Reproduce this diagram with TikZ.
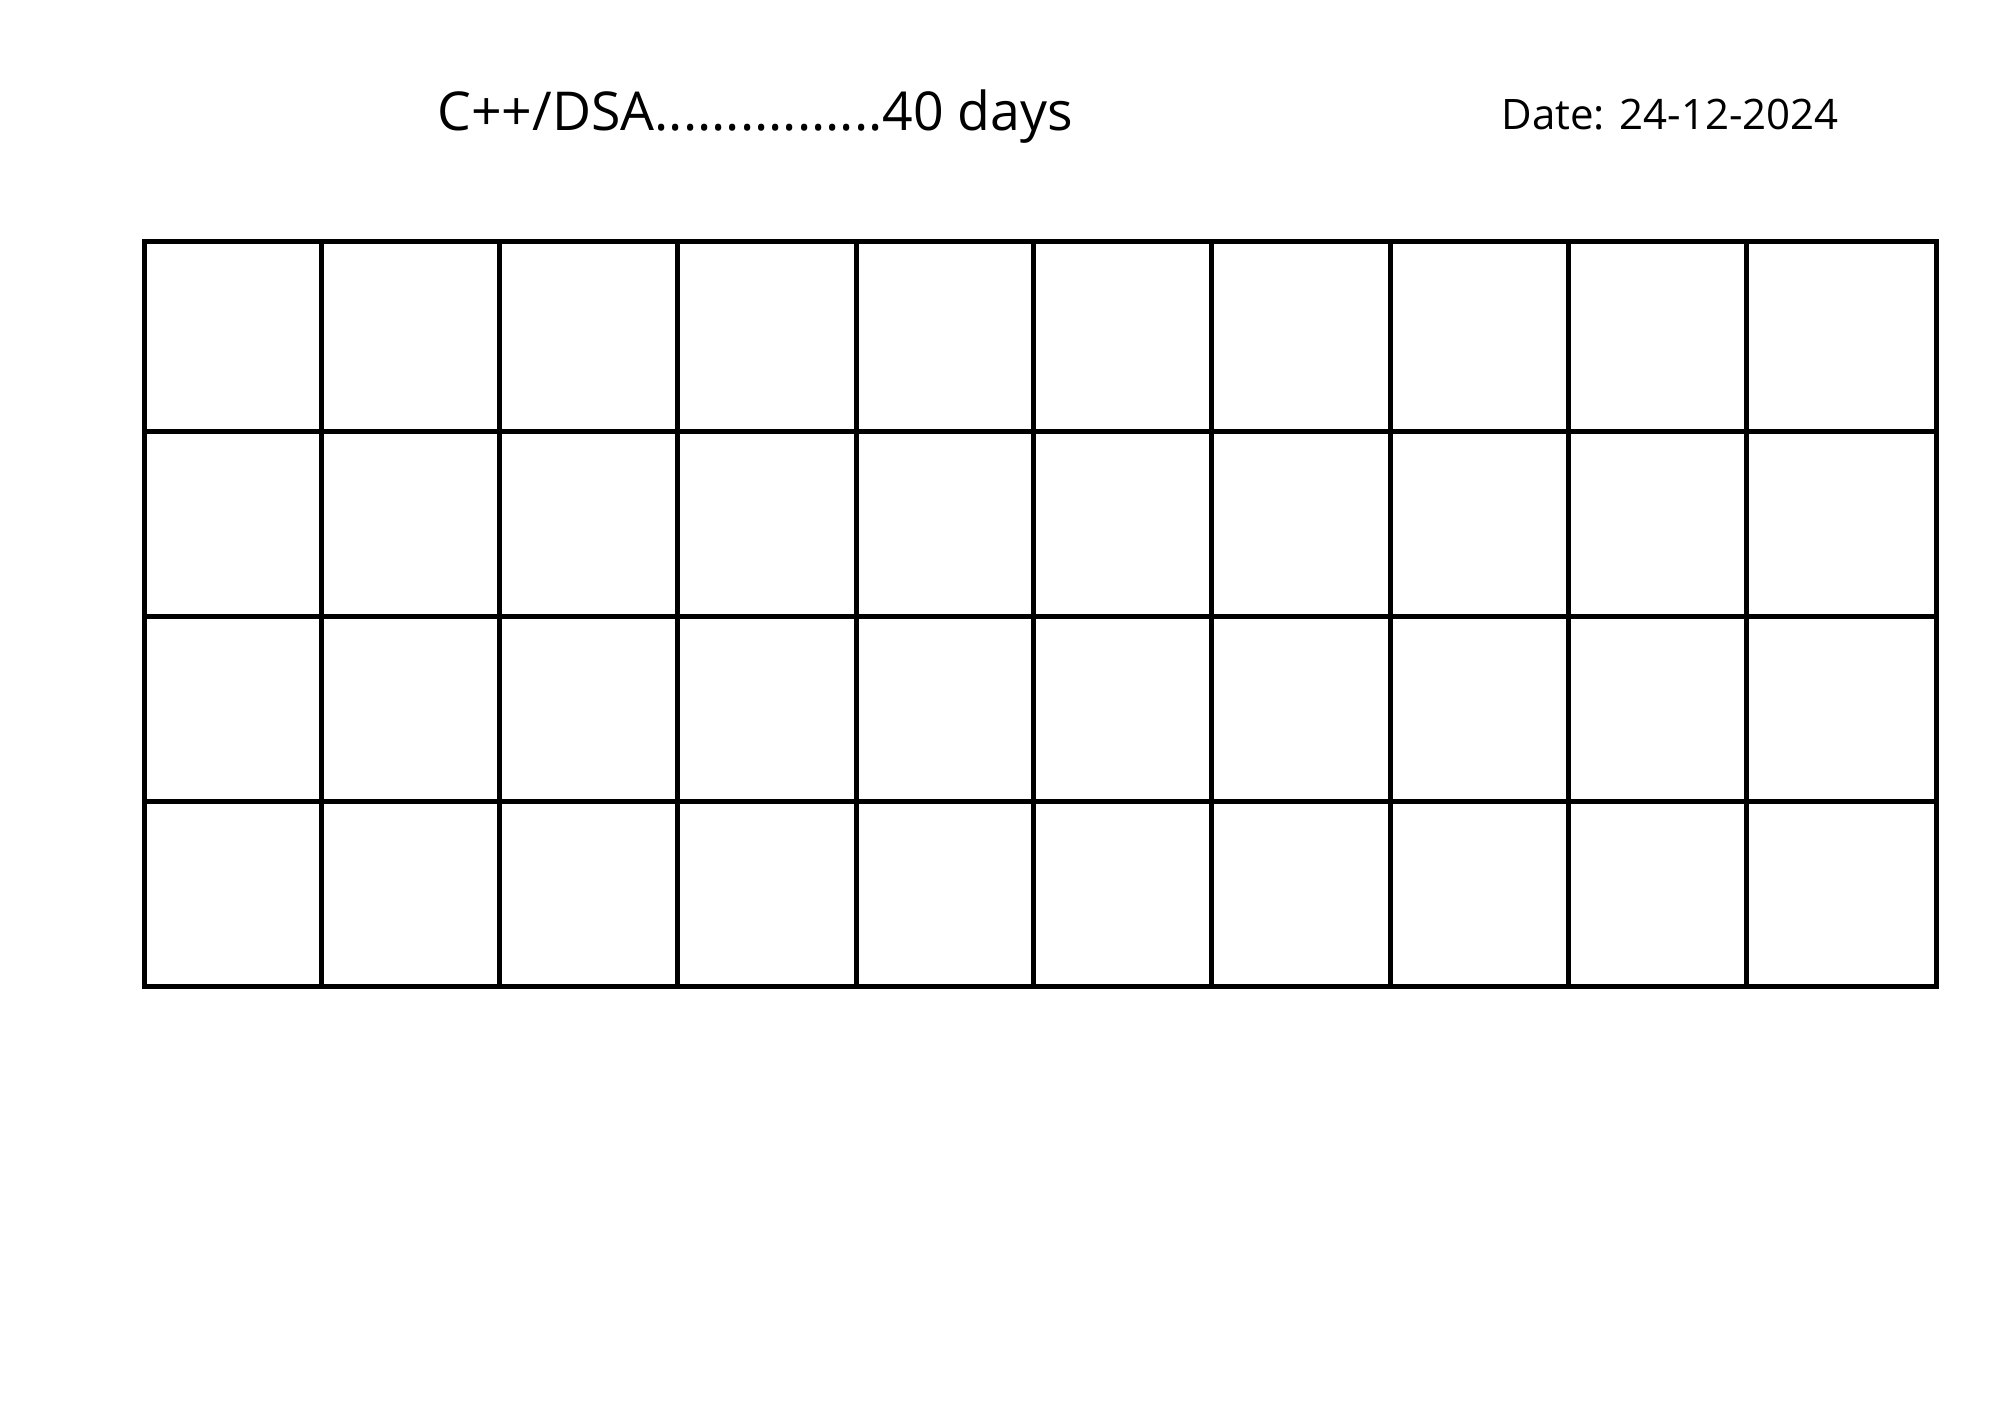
\documentclass[tikz,border=0pt]{standalone}
\usepackage{fontspec}
\setmainfont{Open Sans}
\begin{document}
\begin{tikzpicture}[x=0.5pt,y=-0.5pt,
  gridline/.style={line width=2.5pt,line cap=rect,black},
  titletext/.style={inner sep=0pt,anchor=base west,font=\fontsize{26.8}{30}\selectfont},
  datetext/.style={inner sep=0pt,anchor=base west,font=\fontsize{21}{25}\selectfont}]
\useasboundingbox[fill=white] (0,0) rectangle (2000,1414);
\node[titletext] (title) at (437,130) {C++/DSA................40 days};
\node[datetext] (date) at (1501,129) {Date: 24-12-2024};
\foreach \x in {144,321.5,499,677,856,1033,1211.5,1390,1568,1746.5,1936}
  \draw[gridline] (\x,241) -- (\x,986.5);
\foreach \y in {241,431,616,801,986.5}
  \draw[gridline] (144,\y) -- (1936,\y);
\end{tikzpicture}
\end{document}
